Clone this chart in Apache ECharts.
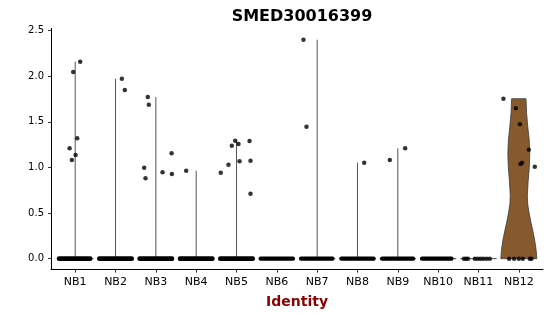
<!DOCTYPE html>
<html>
<head>
<meta charset="utf-8">
<script src="https://cdn.jsdelivr.net/npm/echarts@6/dist/echarts.min.js"></script>
<style>html,body{margin:0;padding:0;background:#fff;}#c{width:550px;height:316px;}</style>
</head>
<body>
<div id="c"></div>
<script>
const categories = ['NB1','NB2','NB3','NB4','NB5','NB6','NB7','NB8','NB9','NB10','NB11','NB12'];
const yTicks = [0, 0.5, 1, 1.5, 2, 2.5];
// non-zero expression values per group
const pointValues = [
  [2.16, 2.047, 1.32, 1.21, 1.137, 1.082],
  [1.974, 1.85],
  [1.773, 1.689, 0.998, 0.881, 0.947, 1.156, 0.929],
  [0.965],
  [0.943, 1.031, 1.239, 1.294, 1.258, 1.068, 1.291, 1.075, 0.713],
  [],
  [2.401, 1.447],
  [1.053],
  [1.082, 1.21],
  [],
  [],
  [1.754, 1.649, 1.474, 1.195, 1.053, 1.038, 1.009]
];
// horizontal jitter of those points (category units)
const pointJitter = [
  [0.124, -0.05, 0.05, -0.139, 0.01, -0.082],
  [0.157, 0.231],
  [-0.199, -0.174, -0.29, -0.256, 0.166, 0.39, 0.397],
  [-0.248],
  [-0.39, -0.199, -0.117, -0.033, 0.05, 0.074, 0.323, 0.347, 0.347],
  [],
  [-0.34, -0.265],
  [0.166],
  [-0.199, 0.182],
  [],
  [],
  [-0.382, -0.074, 0.025, 0.248, 0.082, 0.04, 0.397]
];
// dense zero-valued cells (NB1..NB10): jitter extent
const zeroJitterMin = [-0.4, -0.4, -0.4, -0.4, -0.4, -0.4, -0.4, -0.4, -0.39, -0.4];
const zeroJitterMax = [0.37, 0.4, 0.4, 0.4, 0.4, 0.4, 0.38, 0.4, 0.38, 0.33];
// sparse zero-valued cells
const nb11ZeroJitter = [-0.36, -0.31, -0.26, -0.09, -0.02, 0.05, 0.12, 0.2, 0.28];
const nb12ZeroJitter = [-0.24, -0.117, 0, 0.099, 0.273, 0.313];
// NB12 violin density profile (half width, category units)
const nb12ViolinY = [0, 0.1, 0.2, 0.3, 0.4, 0.5, 0.6, 0.7, 0.85, 1.0, 1.15, 1.3, 1.45, 1.6, 1.754];
const nb12ViolinHalfWidth = [0.447, 0.428, 0.395, 0.35, 0.3, 0.255, 0.22, 0.212, 0.232, 0.26, 0.272, 0.258, 0.222, 0.192, 0.178];

const FONT = 'DejaVu Sans';

// build series data
const scatterData = [];
pointValues.forEach((vals, g) => {
  vals.forEach((v, k) => scatterData.push([g + 1 + pointJitter[g][k], v]));
});
nb11ZeroJitter.forEach(j => scatterData.push([11 + j, 0]));
nb12ZeroJitter.forEach(j => scatterData.push([12 + j, 0]));

const stemData = [];
pointValues.forEach((vals, g) => {
  if (vals.length && g !== 11) stemData.push([g + 1, Math.max.apply(null, vals)]);
});
const flatData = [];
for (let g = 0; g < 11; g++) flatData.push([g + 1, 0]);
const bandData = zeroJitterMin.map((m, g) => [g + 1, 0, m, zeroJitterMax[g]]);

const chart = echarts.init(document.getElementById('c'), null, {renderer: 'canvas'});
chart.setOption({
  animation: false,
  backgroundColor: '#ffffff',
  title: {
    text: 'SMED30016399',
    left: 297, top: 4, textAlign: 'center',
    textStyle: {fontFamily: FONT, fontWeight: 'bold', fontSize: 16, color: '#000'}
  },
  grid: {left: 51, right: 7, top: 28.4, bottom: 46.4, containLabel: false},
  xAxis: {
    type: 'value', min: 0.4, max: 12.6,
    name: 'Identity', nameLocation: 'middle', nameGap: 26,
    nameTextStyle: {fontFamily: FONT, fontWeight: 'bold', fontSize: 14, color: '#8B0000'},
    axisLine: {show: true, onZero: false, lineStyle: {color: '#000', width: 1}},
    axisTick: {show: true, length: 3, lineStyle: {color: '#333'}, customValues: categories.map((c, i) => i + 1)},
    axisLabel: {
      fontFamily: FONT, fontSize: 11, color: '#000', margin: 7,
      customValues: categories.map((c, i) => i + 1),
      formatter: v => categories[Math.round(v) - 1] || ''
    },
    splitLine: {show: false}
  },
  yAxis: {
    type: 'value', min: -0.12, max: 2.525,
    axisLine: {show: true, onZero: false, lineStyle: {color: '#000', width: 1}},
    axisTick: {show: true, length: 3, lineStyle: {color: '#333'}, customValues: yTicks},
    axisLabel: {
      fontFamily: FONT, fontSize: 10, color: '#000', margin: 7,
      customValues: yTicks,
      formatter: v => v.toFixed(1)
    },
    splitLine: {show: false}
  },
  series: [
    {
      type: 'custom', name: 'nb12violin', z: 1,
      data: [[12, 0]],
      renderItem: (params, api) => {
        const x = api.value(0);
        const pts = [];
        for (let i = 0; i < nb12ViolinY.length; i++) pts.push(api.coord([x - nb12ViolinHalfWidth[i], nb12ViolinY[i]]));
        for (let i = nb12ViolinY.length - 1; i >= 0; i--) pts.push(api.coord([x + nb12ViolinHalfWidth[i], nb12ViolinY[i]]));
        return {type: 'polygon', shape: {points: pts}, style: {fill: '#875A2D', stroke: '#3a3a3a', lineWidth: 0.8, lineJoin: 'round'}};
      }
    },
    {
      type: 'custom', name: 'stems', z: 2,
      data: stemData,
      renderItem: (params, api) => {
        const p0 = api.coord([api.value(0), 0]);
        const p1 = api.coord([api.value(0), api.value(1)]);
        return {type: 'line', shape: {x1: p0[0], y1: p0[1], x2: p1[0], y2: p1[1]}, style: {stroke: '#555', lineWidth: 1}};
      }
    },
    {
      type: 'custom', name: 'flat', z: 2,
      data: flatData,
      renderItem: (params, api) => {
        const p0 = api.coord([api.value(0) - 0.45, 0]);
        const p1 = api.coord([api.value(0) + 0.45, 0]);
        return {type: 'line', shape: {x1: p0[0], y1: p0[1], x2: p1[0], y2: p1[1]}, style: {stroke: '#444', lineWidth: 1}};
      }
    },
    {
      type: 'custom', name: 'zeroBand', z: 3,
      data: bandData,
      renderItem: (params, api) => {
        const g = api.value(0);
        const p0 = api.coord([g + api.value(2), 0]);
        const p1 = api.coord([g + api.value(3), 0]);
        return {type: 'line', shape: {x1: p0[0], y1: p0[1], x2: p1[0], y2: p1[1]}, style: {stroke: '#000', lineWidth: g <= 5 ? 4.8 : 4.2, lineCap: 'round'}};
      }
    },
    {
      type: 'scatter', name: 'cells', z: 4,
      symbol: 'circle', symbolSize: 4.5,
      itemStyle: {color: '#000'},
      data: scatterData
    }
  ]
});
</script>
</body>
</html>
